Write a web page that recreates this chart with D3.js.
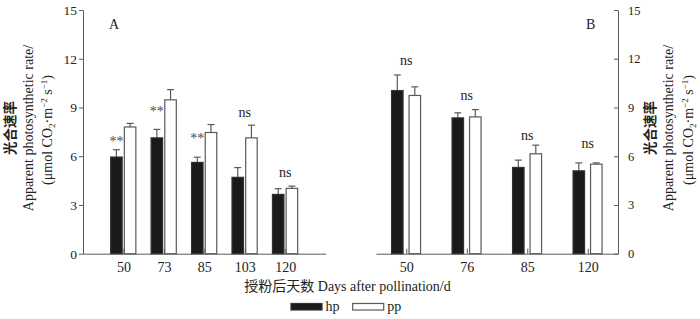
<!DOCTYPE html>
<html>
<head>
<meta charset="utf-8">
<script src="https://cdn.jsdelivr.net/npm/d3@7"></script>
<style>
  html, body { margin: 0; padding: 0; background: #fff; }
  svg { display: block; }
  text { font-family: "Liberation Serif", "Noto Sans CJK SC", serif; fill: #222; }
</style>
</head>
<body>
<div id="chart"></div>
<script>
// ── Apparent photosynthetic rate, hp vs pp, two experiments (A, B) ──
const yTicks = [0, 3, 6, 9, 12, 15];
const seriesNames = ["hp", "pp"];

// Panel A
const daysA   = ["50", "73", "85", "103", "120"];
const hpA     = [5.95, 7.13, 5.62, 4.70, 3.65];
const hpErrA  = [0.45, 0.52, 0.32, 0.60, 0.35];
const ppA     = [7.80, 9.47, 7.46, 7.13, 4.02];
const ppErrA  = [0.22, 0.63, 0.49, 0.78, 0.14];
const sigA    = ["**", "**", "**", "ns", "ns"];
const sigPosA = [6.65, 8.45, 6.83, 8.40, 4.70];

// Panel B
const daysB   = ["50", "76", "85", "120"];
const hpB     = [10.04, 8.36, 5.31, 5.10];
const hpErrB  = [0.96, 0.31, 0.45, 0.49];
const ppB     = [9.74, 8.42, 6.15, 5.51];
const ppErrB  = [0.53, 0.45, 0.53, 0.08];
const sigB    = ["ns", "ns", "ns", "ns"];
const sigPosB = [11.6, 9.47, 6.99, 6.48];

const width = 700, height = 319;
const axisCol = "#5a5a5a";
const hpFill = "#1a1a1a";

const svg = d3.select("#chart").append("svg")
    .attr("width", width).attr("height", height);

const yScale = d3.scaleLinear().domain([0, 15]).range([253.7, 10]);

function drawPanel(cfg) {
    const g = svg.append("g");
    const x = d3.scalePoint().domain(cfg.days).range(cfg.range).padding(cfg.pad);
    const sub = d3.scaleBand().domain(seriesNames).range(cfg.subRange).paddingInner(cfg.subPad);

    // x axis (inward ticks at category centres)
    const xa = g.append("g").attr("transform", `translate(0,${yScale(0)})`)
        .call(d3.axisBottom(x).tickSizeInner(-5).tickSizeOuter(0).tickPadding(8));
    xa.select(".domain").attr("stroke", axisCol);
    xa.selectAll(".tick line").attr("stroke", axisCol);
    xa.selectAll("text").style("font-size", "14px").style("fill", "#222");

    const rows = cfg.days.map((d, i) => ({
        day: d,
        vals: [
            { s: "hp", v: cfg.hp[i], e: cfg.hpErr[i] },
            { s: "pp", v: cfg.pp[i], e: cfg.ppErr[i] }
        ],
        sig: cfg.sig[i], sigPos: cfg.sigPos[i]
    }));

    const grp = g.selectAll(".grp").data(rows).enter().append("g")
        .attr("transform", d => `translate(${x(d.day)},0)`);

    const bar = grp.selectAll(".bar").data(d => d.vals).enter().append("g");
    // error bars (upper only)
    bar.append("line")
        .attr("x1", d => sub(d.s) + sub.bandwidth() / 2)
        .attr("x2", d => sub(d.s) + sub.bandwidth() / 2)
        .attr("y1", d => yScale(d.v))
        .attr("y2", d => yScale(d.v + d.e))
        .attr("stroke", axisCol).attr("stroke-width", 1.2);
    bar.append("line")
        .attr("x1", d => sub(d.s) + sub.bandwidth() / 2 - 3.5)
        .attr("x2", d => sub(d.s) + sub.bandwidth() / 2 + 3.5)
        .attr("y1", d => yScale(d.v + d.e))
        .attr("y2", d => yScale(d.v + d.e))
        .attr("stroke", axisCol).attr("stroke-width", 1.2);
    bar.append("rect")
        .attr("x", d => sub(d.s))
        .attr("width", sub.bandwidth())
        .attr("y", d => yScale(d.v))
        .attr("height", d => yScale(0) - yScale(d.v))
        .attr("fill", d => d.s === "hp" ? hpFill : "#fff")
        .attr("stroke", d => d.s === "hp" ? "#333" : axisCol)
        .attr("stroke-width", 1.2);

    // significance marks: ** over hp bar, ns centred on the group
    grp.append("text")
        .attr("x", d => d.sig === "**" ? sub("hp") + sub.bandwidth() / 2 : 0)
        .attr("y", d => yScale(d.sigPos))
        .attr("text-anchor", "middle")
        .style("font-size", "14px")
        .style("fill", d => d.sig === "**" ? "#4a4a4a" : "#222")
        .text(d => d.sig);

    // y axis
    const ya = g.append("g").attr("transform", `translate(${cfg.axisX},0)`)
        .call((cfg.right ? d3.axisRight(yScale) : d3.axisLeft(yScale))
            .tickValues(yTicks).tickSizeOuter(0).tickSizeInner(4).tickPadding(cfg.right ? 6 : 2));
    ya.attr("font-family", null);
    ya.select(".domain").attr("stroke", axisCol);
    ya.selectAll(".tick line").attr("stroke", axisCol).attr("x2", -4);
    ya.selectAll("text").style("font-size", cfg.right ? "12.5px" : "13.5px").style("fill", "#222");

    // panel letter
    g.append("text").attr("x", cfg.letterX).attr("y", 29)
        .style("font-size", "14px").text(cfg.letter);

    // y title (three rotated lines)
    const lines = g.append("g");
    const mk = (xc, yc) => lines.append("text")
        .attr("transform", `translate(${xc},${yc}) rotate(-90)`)
        .attr("text-anchor", "middle").attr("dy", "0.35em")
        .style("font-size", "14px");
    mk(cfg.titleX[0], 128).text("光合速率").style("font-weight", "bold").style("font-size", "13.5px");
    mk(cfg.titleX[1], 128).text("Apparent photosynthetic rate/");
    const t3 = mk(cfg.titleX[2], 130);
    t3.append("tspan").text("(μmol CO");
    t3.append("tspan").text("2").style("font-size", "9px").attr("dy", "3");
    t3.append("tspan").text("·m").attr("dy", "-3");
    t3.append("tspan").text("−2").style("font-size", "9px").attr("dy", "-5");
    t3.append("tspan").text(" s").attr("dy", "5");
    t3.append("tspan").text("−1").style("font-size", "9px").attr("dy", "-5");
    t3.append("tspan").text(")").attr("dy", "5");
}

drawPanel({
    days: daysA, hp: hpA, hpErr: hpErrA, pp: ppA, ppErr: ppErrA, sig: sigA, sigPos: sigPosA,
    range: [83, 325.7], pad: 1, subRange: [-12.8, 12.4], subPad: 0.16,
    axisX: 83, right: false, letter: "A", letterX: 109, titleX: [10, 28.3, 46.7]
});
drawPanel({
    days: daysB, hp: hpB, hpErr: hpErrB, pp: ppB, ppErr: ppErrB, sig: sigB, sigPos: sigPosB,
    range: [376, 618], pad: 0.5, subRange: [-14.7, 14.3], subPad: 0.343,
    axisX: 618, right: true, letter: "B", letterX: 586, titleX: [650, 668.5, 688]
});

// x title
svg.append("text").attr("x", 347.5).attr("y", 291)
    .attr("text-anchor", "middle").style("font-size", "14px")
    .text("授粉后天数 Days after pollination/d");

// legend
const legendItems = [
    { name: "hp", fill: hpFill, stroke: "#333", x: 291 },
    { name: "pp", fill: "#fff", stroke: axisCol, x: 352.7 }
];
const lg = svg.append("g");
legendItems.forEach(it => {
    lg.append("rect").attr("x", it.x).attr("y", 303.5).attr("width", 31).attr("height", 6.5)
        .attr("fill", it.fill).attr("stroke", it.stroke).attr("stroke-width", 1.2);
    lg.append("text").attr("x", it.x + 34.5).attr("y", 310.5)
        .style("font-size", "14px").text(it.name);
});
</script>
</body>
</html>
